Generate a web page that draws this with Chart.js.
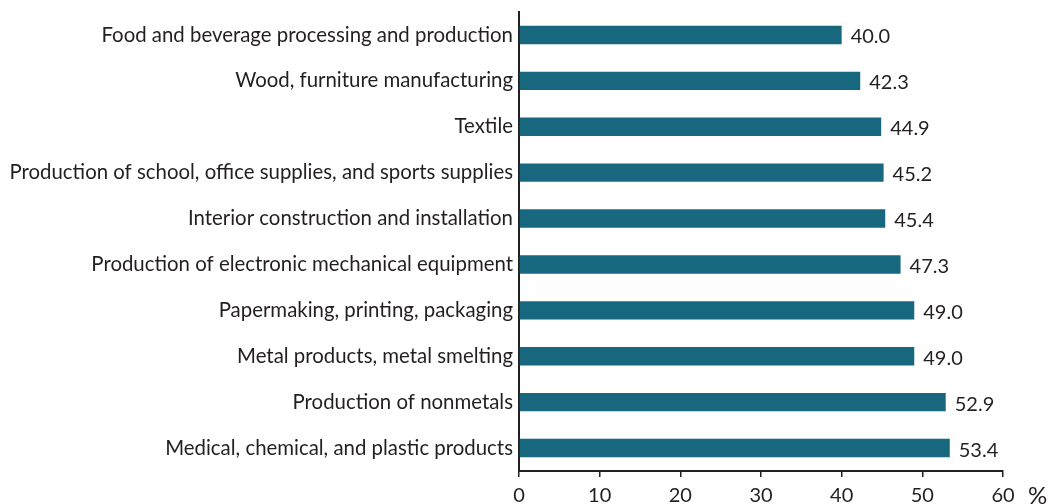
<!DOCTYPE html>
<html>
<head>
<meta charset="utf-8">
<script src="https://cdn.jsdelivr.net/npm/chart.js@4.4.1/dist/chart.umd.min.js"></script>
<style>
  html, body { margin: 0; padding: 0; background: #fff; }
  #wrap { width: 1052px; height: 504px; position: relative; }
</style>
</head>
<body>
<div id="wrap"><canvas id="sectorChart"></canvas></div>
<script>
const categories = [
    'Food and beverage processing and production',
    'Wood, furniture manufacturing',
    'Textile',
    'Production of school, office supplies, and sports supplies',
    'Interior construction and installation',
    'Production of electronic mechanical equipment',
    'Papermaking, printing, packaging',
    'Metal products, metal smelting',
    'Production of nonmetals',
    'Medical, chemical, and plastic products'
];
const shares = [40.0, 42.3, 44.9, 45.2, 45.4, 47.3, 49.0, 49.0, 52.9, 53.4];
const xTicks = [0, 10, 20, 30, 40, 50, 60];
const unitLabel = '%';

const textColor = '#231f20';
const fontFamily = 'Lato, "Open Sans", sans-serif';

// value labels at the end of each bar + the unit after the last tick
const barLabels = {
    id: 'barLabels',
    afterDatasetsDraw(chart) {
        const ctx = chart.ctx;
        const meta = chart.getDatasetMeta(0);
        ctx.save();
        ctx.font = '20px ' + fontFamily;
        ctx.fillStyle = textColor;
        ctx.textAlign = 'left';
        ctx.textBaseline = 'middle';
        meta.data.forEach((bar, i) => {
            ctx.fillText(shares[i].toFixed(1), bar.x + 9, bar.y + 2);
        });
        const xs = chart.scales.x;
        ctx.font = '24px ' + fontFamily;
        ctx.textBaseline = 'alphabetic';
        ctx.fillText(unitLabel, xs.getPixelForValue(xTicks[xTicks.length - 1]) + 25, xs.bottom);
        ctx.restore();
    }
};

document.addEventListener('DOMContentLoaded', () => {
    const ctx = document.getElementById('sectorChart').getContext('2d');
    new Chart(ctx, {
        type: 'bar',
        data: {
            labels: categories,
            datasets: [{
                data: shares,
                backgroundColor: '#17687f',
                borderWidth: 0,
                barPercentage: 0.8,
                categoryPercentage: 0.5
            }]
        },
        options: {
            responsive: true,
            maintainAspectRatio: false,
            animation: false,
            indexAxis: 'y',
            layout: { padding: { top: 12, right: 49, left: 0, bottom: 0 } },
            scales: {
                x: {
                    min: 0,
                    max: 60,
                    afterBuildTicks: scale => { scale.ticks = xTicks.map(v => ({ value: v })); },
                    afterFit: scale => { scale.height = 33; },
                    grid: { drawOnChartArea: false, drawTicks: true, tickLength: 6, color: textColor, lineWidth: 1.5 },
                    border: { display: true, color: textColor, width: 2 },
                    ticks: { color: textColor, font: { family: fontFamily, size: 20 }, padding: 7, maxRotation: 0 }
                },
                y: {
                    afterFit: scale => {
                        scale.width = 519;
                        scale.paddingTop = 0;
                        scale.paddingBottom = 0;
                    },
                    grid: { display: false, drawTicks: false },
                    border: { display: true, color: textColor, width: 2 },
                    ticks: { color: textColor, font: { family: fontFamily, size: 20.4 }, padding: 6, autoSkip: false }
                }
            },
            plugins: {
                legend: { display: false },
                tooltip: { enabled: false }
            }
        },
        plugins: [barLabels]
    });
});
</script>
</body>
</html>
